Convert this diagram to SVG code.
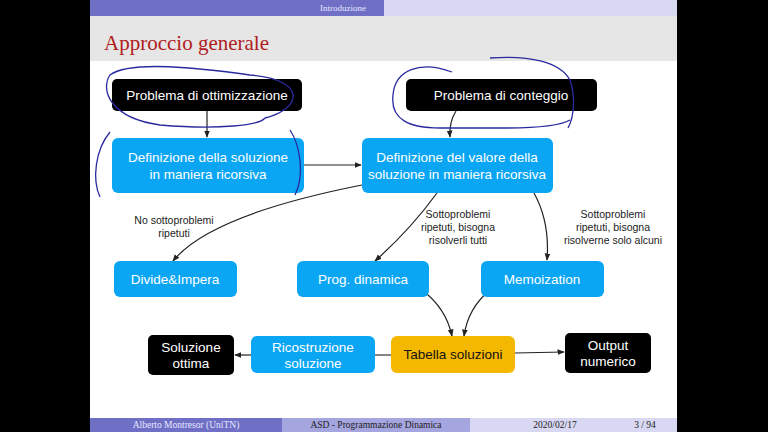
<svg xmlns="http://www.w3.org/2000/svg" width="768" height="432" viewBox="0 0 768 432">
<defs>
<marker id="ah" viewBox="0 0 10 10" refX="9" refY="5" markerWidth="6" markerHeight="6" orient="auto"><path d="M0,1 L10,5 L0,9 z" fill="#222"/></marker>
<style>
.n{font-family:"Liberation Sans",Arial,sans-serif;font-size:13.5px;text-anchor:middle}
.w{fill:#fff}.k{fill:#111}
.blue{fill:#0aa6f4}.blk{fill:#000}.gold{fill:#f5b800}
.c{fill:none;stroke:#222;stroke-width:1.2;marker-end:url(#ah)}
.l{font-family:"Liberation Sans",Arial,sans-serif;font-size:10.5px;text-anchor:middle;fill:#222}
.hand{fill:none;stroke:#2a2aa0;stroke-width:1.3}
.s{font-family:"Liberation Serif","Times New Roman",serif}
</style>
</defs>
<rect width="768" height="432" fill="#000"/>
<rect x="90" y="0" width="587" height="432" fill="#fff"/>
<rect x="90" y="0" width="294" height="16" fill="#6f6fc6"/>
<rect x="384" y="0" width="293" height="16" fill="#d8d8f2"/>
<text x="343" y="11" class="s" font-size="9" fill="#e8e8ff" text-anchor="middle">Introduzione</text>
<rect x="90" y="16" width="587" height="45" fill="#e6e6e6"/>
<text x="104" y="50" class="s" font-size="21" fill="#b01c1c">Approccio generale</text>
<rect x="90" y="418" width="192" height="14" fill="#6f6fc6"/>
<rect x="282" y="418" width="188" height="14" fill="#a5a5e0"/>
<rect x="470" y="418" width="207" height="14" fill="#d8d8f2"/>
<g class="s" font-size="9.5"><text x="186" y="428" text-anchor="middle" fill="#e8e8ff">Alberto Montresor  (UniTN)</text>
<text x="376" y="428" text-anchor="middle" fill="#222">ASD - Programmazione Dinamica</text>
<text x="555" y="428" text-anchor="middle" fill="#222">2020/02/17</text>
<text x="645" y="428" text-anchor="middle" fill="#222">3 / 94</text></g>

<g id="connectors">
<path class="c" d="M207,111 L207,137"/>
<path class="c" d="M456,111 Q449,122 450,137"/>
<path class="c" d="M304,165 L361,165"/>
<path class="c" d="M362,185 Q210,215 173,261"/>
<path class="c" d="M437,193 Q410,230 375,261"/>
<path class="c" d="M534,193 Q550,222 547,260"/>
<path class="c" d="M422,290 Q446,308 452,336"/>
<path class="c" d="M490,290 Q468,308 464,336"/>
<path fill="none" stroke="#333" stroke-width="1.2" d="M391,355 L375,355"/>
<path class="c" d="M251,355 L235,355"/>
<path class="c" d="M515,353 L564,352"/>
</g>
<g id="n1"><rect x="112" y="79" width="190" height="32" rx="5" class="blk"/><text x="207" y="100" class="n w">Problema di ottimizzazione</text></g>
<g id="n2"><rect x="406" y="79" width="191" height="32" rx="5" class="blk"/><text x="501" y="100" class="n w">Problema di conteggio</text></g>
<g id="n3"><rect x="112" y="138" width="192" height="55" rx="6" class="blue"/><text x="208" y="162" class="n w">Definizione della soluzione</text><text x="208" y="179" class="n w">in maniera ricorsiva</text></g>
<g id="n4"><rect x="362" y="138" width="191" height="55" rx="6" class="blue"/><text x="457" y="162" class="n w">Definizione del valore della</text><text x="457" y="179" class="n w">soluzione in maniera ricorsiva</text></g>
<g id="n5"><rect x="114" y="261" width="123" height="36" rx="6" class="blue"/><text x="175" y="284" class="n w">Divide&amp;Impera</text></g>
<g id="n6"><rect x="297" y="261" width="132" height="36" rx="6" class="blue"/><text x="363" y="284" class="n w">Prog. dinamica</text></g>
<g id="n7"><rect x="481" y="261" width="123" height="36" rx="6" class="blue"/><text x="542" y="284" class="n w">Memoization</text></g>
<g id="n8"><rect x="148" y="335" width="86" height="40" rx="5" class="blk"/><text x="191" y="352" class="n w">Soluzione</text><text x="191" y="368" class="n w">ottima</text></g>
<g id="n9"><rect x="251" y="336" width="124" height="37" rx="6" class="blue"/><text x="313" y="352" class="n w">Ricostruzione</text><text x="313" y="368" class="n w">soluzione</text></g>
<g id="n10"><rect x="391" y="336" width="124" height="37" rx="6" class="gold"/><text x="453" y="359" class="n k">Tabella soluzioni</text></g>
<g id="n11"><rect x="565" y="333" width="86" height="40" rx="5" class="blk"/><text x="608" y="350" class="n w">Output</text><text x="608" y="366" class="n w">numerico</text></g>

<text x="174" y="224" class="l">No sottoproblemi</text><text x="174" y="237" class="l">ripetuti</text>
<text x="458" y="218" class="l">Sottoproblemi</text><text x="458" y="231" class="l">ripetuti, bisogna</text><text x="458" y="244" class="l">risolverli tutti</text>
<text x="613" y="218" class="l">Sottoproblemi</text><text x="613" y="231" class="l">ripetuti, bisogna</text><text x="613" y="244" class="l">risolverne solo alcuni</text>

<path class="hand" d="M265,118 C300,110 310,80 250,75 C200,68 130,60 110,75 C100,90 110,118 160,125 C220,130 260,125 265,118"/>
<path class="hand" d="M110,132 C95,150 92,180 100,197"/>
<path class="hand" d="M290,130 C300,145 305,175 295,195"/>
<path class="hand" d="M452,72 C420,60 395,70 393,95 C390,120 410,128 440,128 L505,128 C540,128 560,126 570,120"/>
<path class="hand" d="M490,58 C530,55 560,62 570,80 C575,95 575,115 568,128"/>
</svg>
